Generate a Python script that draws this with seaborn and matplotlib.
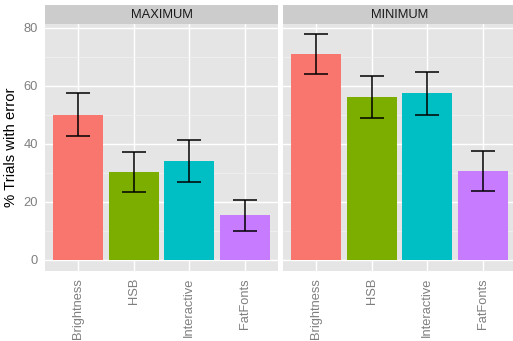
import pandas as pd
import numpy as np
import seaborn as sns
import matplotlib.pyplot as plt
from matplotlib.patches import Rectangle

# datos
methods = ['Brightness', 'HSB', 'Interactive', 'FatFonts']
colors = ['#F8766D', '#7CAE00', '#00BFC4', '#C77CFF']
max_mean = [50.0, 30.1, 34.0, 15.3]
max_err = [7.4, 6.9, 7.1, 5.3]
min_mean = [70.9, 56.1, 57.4, 30.5]
min_err = [6.8, 7.4, 7.5, 6.8]
facets = ['MAXIMUM', 'MINIMUM']

sns.set_style("darkgrid")
plt.rcParams['font.family'] = ['Liberation Sans', 'DejaVu Sans']

W, H = 513, 341
fig = plt.figure(figsize=(W / 100, H / 100), dpi=100)
fig.patch.set_facecolor('white')

top, bottom = 24, 271
panels = [(45, 278), (283, 516)]
data = [(max_mean, max_err), (min_mean, min_err)]

for i, ((x0, x1), (mean, err)) in enumerate(zip(panels, data)):
    ax = fig.add_axes([x0 / W, (H - bottom) / H, (x1 - x0) / W, (bottom - top) / H])
    df = pd.DataFrame({'Method': methods, 'Error': mean})
    sns.barplot(data=df, x='Method', y='Error', hue='Method', palette=colors,
                width=0.9, legend=False, saturation=1, linewidth=0,
                edgecolor='none', ax=ax, zorder=3)
    ax.errorbar(x=np.arange(len(methods)), y=mean, yerr=err, fmt='none',
                ecolor='black', elinewidth=1.1, capsize=8.4, capthick=1.1, zorder=4)

    ax.set_facecolor('#E5E5E5')
    ax.set_xlim(-0.6, 3.6)
    ax.set_ylim(-3.97, 81.3)
    ax.set_yticks([0, 20, 40, 60, 80])
    ax.set_yticks([10, 30, 50, 70], minor=True)
    ax.grid(True, which='major', color='white', linewidth=1.0, zorder=0)
    ax.grid(True, which='minor', axis='y', color='#F2F2F2', linewidth=0.5, zorder=0)
    ax.set_axisbelow(True)
    for s in ax.spines.values():
        s.set_visible(False)

    ax.tick_params(axis='both', which='major', colors='#7F7F7F', labelcolor='#7F7F7F',
                   labelsize=9.3, length=3, width=0.8, direction='out', pad=2)
    ax.tick_params(axis='y', which='minor', length=0)
    plt.setp(ax.get_xticklabels(), rotation=90)
    ax.set_xlabel('')
    if i == 0:
        ax.set_ylabel('% Trials with error', fontsize=10.7, color='black', labelpad=4)
    else:
        ax.set_ylabel('')
        ax.set_yticklabels([])
        ax.tick_params(axis='y', which='major', length=0)

    # franja del facet
    strip_h = 19 / (bottom - top)
    ax.add_patch(Rectangle((0, 1.0), 1, strip_h, transform=ax.transAxes,
                           facecolor='#CCCCCC', edgecolor='none', clip_on=False))
    ax.text(0.5, 1.0 + strip_h / 2, facets[i], transform=ax.transAxes,
            ha='center', va='center', fontsize=9.3, color='#1A1A1A')

plt.savefig('out.png', dpi=100, facecolor='white')
